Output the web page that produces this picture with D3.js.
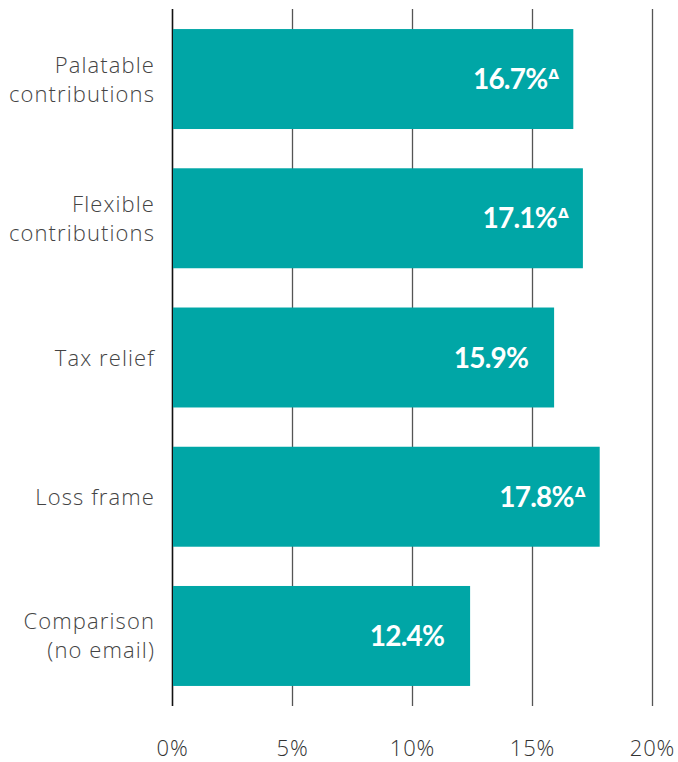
<!DOCTYPE html>
<html>
<head>
<meta charset="utf-8">
<script src="https://cdn.jsdelivr.net/npm/d3@7"></script>
<style>
  html, body { margin: 0; padding: 0; background: #fff; }
  svg { display: block; }
</style>
</head>
<body>
<svg id="chart" width="678" height="762"></svg>
<script>
// Categories (top to bottom), each may wrap onto two lines
const categories = [
  ["Palatable", "contributions"],
  ["Flexible", "contributions"],
  ["Tax relief"],
  ["Loss frame"],
  ["Comparison", "(no email)"]
];
// Share of people taking the action, in percent
const values = [16.7, 17.1, 15.9, 17.8, 12.4];
// Marks a statistically significant difference from the comparison group
const significant = [true, true, false, true, false];
const ticks = [0, 5, 10, 15, 20];

const svg = d3.select("#chart");
const barColor = "#00a6a6";
const boldFont = "Lato, 'Noto Sans', sans-serif";
const textFont = "'Open Sans', 'Noto Sans', sans-serif";

const x = d3.scaleLinear().domain([0, 20]).range([172.5, 652.5]);
const y = d3.scaleBand()
  .domain(d3.range(categories.length))
  .range([9, 706])
  .paddingInner(0.282)
  .paddingOuter(0.144);

// Vertical gridlines
svg.append("g")
  .selectAll("line")
  .data(ticks)
  .join("line")
  .attr("x1", d => x(d)).attr("x2", d => x(d))
  .attr("y1", 9).attr("y2", 706)
  .attr("stroke", d => d === 0 ? "#111" : "#555")
  .attr("stroke-width", d => d === 0 ? 1.6 : 1.3);

// Bars
svg.append("g")
  .selectAll("rect")
  .data(values)
  .join("rect")
  .attr("x", x(0) + 0.5)
  .attr("y", (d, i) => y(i))
  .attr("width", d => x(d) - x(0) - 0.5)
  .attr("height", y.bandwidth())
  .attr("fill", barColor);

// Value labels inside the bars
svg.append("g")
  .selectAll("text")
  .data(values)
  .join("text")
  .attr("x", d => x(d) - 26)
  .attr("y", (d, i) => y(i) + y.bandwidth() / 2 + 10)
  .attr("text-anchor", "end")
  .attr("fill", "#fff")
  .attr("font-family", boldFont)
  .attr("font-weight", 700)
  .attr("font-size", 28)
  .attr("letter-spacing", -0.8)
  .text(d => d.toFixed(1) + "%");

// Significance markers
svg.append("g")
  .selectAll("text")
  .data(values.map((v, i) => ({ v, i })).filter(d => significant[d.i]))
  .join("text")
  .attr("x", d => x(d.v) - 25)
  .attr("y", d => y(d.i) + y.bandwidth() / 2)
  .attr("fill", "#fff")
  .attr("font-family", "'DejaVu Sans', sans-serif")
  .attr("font-weight", 700)
  .attr("font-size", 14)
  .text("\u0394");

// Category labels
const cl = svg.append("g")
  .selectAll("text")
  .data(categories)
  .join("text")
  .attr("text-anchor", "end")
  .attr("fill", "#444")
  .attr("font-family", textFont)
  .attr("font-weight", 300)
  .attr("font-size", 22)
  .attr("letter-spacing", 1.1)
  .attr("transform", (d, i) => `translate(155, ${y(i) + y.bandwidth() / 2})`);
cl.each(function (lines) {
  const t = d3.select(this);
  const lh = 29;
  lines.forEach((ln, k) => {
    t.append("tspan")
      .attr("x", 0)
      .attr("y", (k - (lines.length - 1) / 2) * lh + 8)
      .text(ln);
  });
});

// Axis tick labels
svg.append("g")
  .selectAll("text")
  .data(ticks)
  .join("text")
  .attr("x", d => x(d))
  .attr("y", 756)
  .attr("text-anchor", "middle")
  .attr("fill", "#333")
  .attr("font-family", textFont)
  .attr("font-weight", 300)
  .attr("font-size", 22)
  .attr("letter-spacing", 0.8)
  .text(d => d + "%");
</script>
</body>
</html>
